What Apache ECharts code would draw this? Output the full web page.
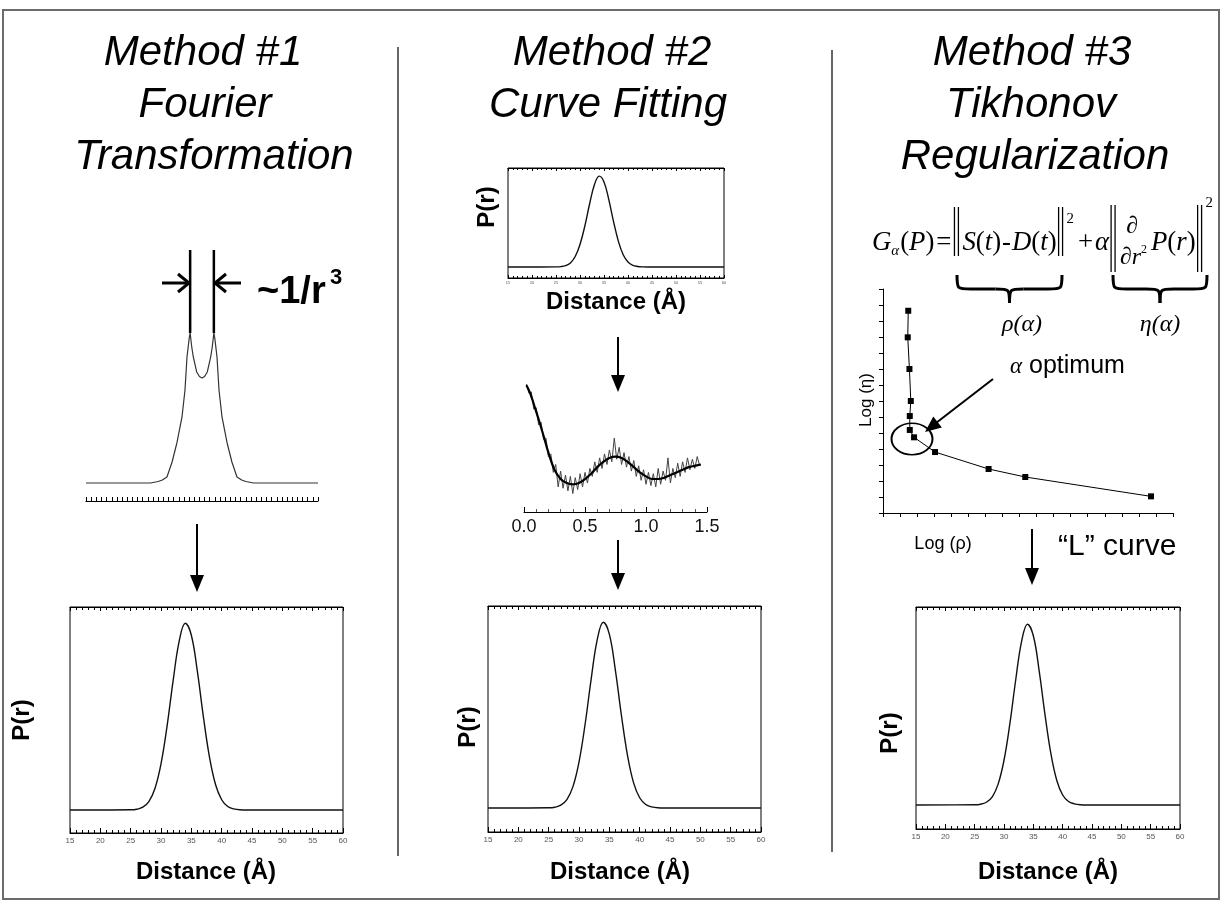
<!DOCTYPE html>
<html><head><meta charset="utf-8">
<script src="https://cdn.jsdelivr.net/npm/echarts@6/dist/echarts.min.js"></script>
<style>html,body{margin:0;padding:0;background:#fff}#c{width:1225px;height:904px}</style>
</head><body><div id="c"></div>
<script>
// ---------- DATA ----------
// Method 1: dipolar (Pake) spectrum, arbitrary frequency axis 0..45
const dipolarX = [0, 12.5, 14.0, 14.8, 15.7, 16.7, 17.65, 18.62, 19.2, 19.59, 20.0, 20.2, 20.5, 20.81, 21.47, 22.0, 22.5, 23.0, 23.53, 24.19, 24.5, 24.8, 25.0, 25.41, 25.8, 26.38, 27.35, 28.3, 29.29, 30.2, 31.0, 32.5, 45];
const dipolarY = [0, 0, 0.01, 0.02, 0.04, 0.14, 0.27, 0.44, 0.62, 0.84, 0.96, 1.0, 0.91, 0.84, 0.74, 0.71, 0.70, 0.71, 0.74, 0.84, 0.91, 1.0, 0.96, 0.84, 0.62, 0.44, 0.27, 0.14, 0.04, 0.02, 0.01, 0, 0];
const peakMarkX = [20.2, 24.8];
const peakMarkY = [1.0, 1.553];

// Distance distribution P(r)
const distanceR = [15, 25, 26, 27, 28, 29, 30, 31, 32, 33, 34, 35, 36, 37, 38, 39, 40, 41, 42, 43, 44, 60];
const prValues  = [0, 0.001, 0.004, 0.015, 0.045, 0.115, 0.247, 0.449, 0.692, 0.904, 0.999, 0.935, 0.740, 0.496, 0.282, 0.135, 0.055, 0.019, 0.006, 0.001, 0, 0];

// Method 2: time-domain trace (noisy) and fit
const traceT = [0.02,0.04,0.06,0.08,0.10,0.12,0.14,0.16,0.18,0.20,0.22,0.24,0.26,0.28,0.30,0.32,0.34,0.36,0.38,0.40,0.42,0.44,0.46,0.48,0.50,0.52,0.54,0.56,0.58,0.60,0.62,0.64,0.66,0.68,0.70,0.72,0.74,0.76,0.78,0.80,0.82,0.84,0.86,0.88,0.90,0.92,0.94,0.96,0.98,1.00,1.02,1.04,1.06,1.08,1.10,1.12,1.14,1.16,1.18,1.20,1.22,1.24,1.26,1.28,1.30,1.32,1.34,1.36,1.38,1.40,1.42,1.44];
const traceV = [0.97,0.90,0.91,0.78,0.79,0.66,0.68,0.55,0.56,0.42,0.44,0.30,0.36,0.19,0.31,0.18,0.28,0.16,0.27,0.14,0.26,0.17,0.29,0.19,0.30,0.22,0.33,0.27,0.38,0.30,0.41,0.33,0.44,0.36,0.47,0.38,0.56,0.40,0.49,0.36,0.45,0.34,0.42,0.31,0.39,0.27,0.35,0.24,0.32,0.21,0.30,0.20,0.29,0.19,0.33,0.21,0.31,0.24,0.41,0.22,0.33,0.26,0.37,0.27,0.38,0.30,0.41,0.32,0.40,0.33,0.42,0.35];
const fitT = [0.02,0.05,0.10,0.15,0.20,0.25,0.30,0.35,0.40,0.45,0.50,0.55,0.60,0.65,0.70,0.75,0.80,0.85,0.90,0.95,1.00,1.05,1.10,1.15,1.20,1.25,1.30,1.35,1.40,1.45];
const fitV = [0.96,0.90,0.76,0.61,0.45,0.32,0.25,0.22,0.21,0.22,0.25,0.29,0.34,0.38,0.41,0.42,0.41,0.38,0.34,0.30,0.27,0.25,0.25,0.26,0.28,0.30,0.32,0.34,0.35,0.36];
const timeTickLabels = ['0.0', '0.5', '1.0', '1.5'];

// Method 3: L-curve
const logRho = [1.48, 1.45, 1.55, 1.63, 1.57, 1.57, 1.82, 3.05, 6.19, 8.34, 15.71];
const logEta = [12.64, 10.98, 9.0, 7.0, 6.06, 5.19, 4.73, 3.81, 2.75, 2.25, 1.04];

// ---------- HELPERS ----------
const zip = (a, b) => a.map((v, i) => [v, b[i]]);
const SANS = '"Liberation Sans", Arial, sans-serif';
const SERIF = '"Liberation Serif", "Times New Roman", serif';

function distAxisBottom(grid, small) {
  return {
    type: 'value', gridIndex: grid, position: 'bottom', min: 15, max: 60, interval: 5,
    axisLine: { show: true, onZero: false, lineStyle: { color: '#000', width: 1 } },
    axisTick: { show: true, inside: true, length: small ? 3 : 5, lineStyle: { color: '#000' } },
    minorTick: { show: true, splitNumber: 5, length: small ? 2 : 3, lineStyle: { color: '#000' } },
    axisLabel: { show: true, fontSize: small ? 4 : 8, color: '#555', margin: small ? 3 : 4, fontFamily: SANS },
    splitLine: { show: false }, minorSplitLine: { show: false }
  };
}
function distAxisTop(grid, small) {
  return {
    type: 'value', gridIndex: grid, position: 'top', min: 15, max: 60, interval: 5,
    axisLine: { show: true, onZero: false, lineStyle: { color: '#000', width: 1 } },
    axisTick: { show: true, inside: true, length: small ? 3 : 4, lineStyle: { color: '#000' } },
    minorTick: { show: true, splitNumber: 5, length: small ? 2 : 3, lineStyle: { color: '#000' } },
    axisLabel: { show: false }, splitLine: { show: false }, minorSplitLine: { show: false }
  };
}
function hiddenY(grid, min, max) {
  return { type: 'value', gridIndex: grid, min, max, show: false, axisLine: { onZero: false }, splitLine: { show: false } };
}
function prSeries(xi, yi) {
  return { type: 'line', xAxisIndex: xi, yAxisIndex: yi, data: zip(distanceR, prValues), smooth: 0.4,
    showSymbol: false, lineStyle: { color: '#111', width: 1.4 }, silent: true, animation: false };
}

// graphic helpers
const T = (text, x, y, font, o = {}) => ({ type: 'text', x, y, z: 100, rotation: o.rot || 0,
  style: { text, font, fill: o.fill || '#000', align: o.align || 'center', verticalAlign: o.va || 'middle' } });
const L = (x1, y1, x2, y2, w, c) => ({ type: 'line', z: 100, shape: { x1, y1, x2, y2 }, style: { stroke: c || '#000', lineWidth: w || 1 } });
const PG = (pts) => ({ type: 'polygon', z: 100, shape: { points: pts }, style: { fill: '#000' } });
const PL = (pts, w) => ({ type: 'polyline', z: 100, shape: { points: pts }, style: { stroke: '#000', lineWidth: w, fill: null } });
const BZ = (x1, y1, c1x, c1y, c2x, c2y, x2, y2, w) => ({ type: 'bezierCurve', z: 100,
  shape: { x1, y1, x2, y2, cpx1: c1x, cpy1: c1y, cpx2: c2x, cpy2: c2y }, style: { stroke: '#000', lineWidth: w, fill: null } });
function downArrow(x, y1, y2) {
  return [L(x, y1, x, y2 - 12, 2), PG([[x - 7, y2 - 17], [x + 7, y2 - 17], [x, y2]])];
}
function brace(x0, x1, yTop) {
  const ym = yTop + 14, yt = yTop + 28, xm = (x0 + x1) / 2, r = 14;
  return [
    BZ(x0, yTop, x0, ym, x0, ym, x0 + r, ym, 3), L(x0 + r, ym, xm - r, ym, 3),
    BZ(xm - r, ym, xm, ym, xm, ym, xm, yt, 3), BZ(xm, yt, xm, ym, xm, ym, xm + r, ym, 3),
    L(xm + r, ym, x1 - r, ym, 3), BZ(x1 - r, ym, x1, ym, x1, ym, x1, yTop, 3)
  ];
}

// formula layout (measured text widths, then fitted to the reference span)
const mctx = document.createElement('canvas').getContext('2d');
const tw = (t, f) => { mctx.font = f; return mctx.measureText(t).width; };
function buildFormula(x0, xEnd, ym) {
  const FI = 'italic 27px ' + SERIF, FR = '27px ' + SERIF, FS = '15px ' + SERIF, FSI = 'italic 15px ' + SERIF;
  const kids = []; let x = 0;
  const put = (t, f, dy = 0, gap = 0) => { kids.push(T(t, x, ym + dy, f, { align: 'left' })); x += tw(t, f) + gap; };
  const bars = (y1, y2) => { x += 2; kids.push(L(x, y1, x, y2, 1.3), L(x + 4, y1, x + 4, y2, 1.3)); x += 8; };
  put('G', FI); put('α', FSI, 8, 1); put('(', FR); put('P', FI); put(')', FR, 0, 2); put('=', FR, 0, 1);
  bars(ym - 36, ym + 13);
  put('S', FI); put('(', FR); put('t', FI); put(')', FR, 0, 1); put('-', FR, 0, 1); put('D', FI); put('(', FR); put('t', FI); put(')', FR);
  bars(ym - 36, ym + 13);
  put('2', FS, -24, 4);
  put('+', FR, 0, 2); put('α', FI, 0, 0);
  bars(ym - 38, ym + 29);
  const fx = x; const fw = tw('∂r', 'italic 24px ' + SERIF) + 9;
  kids.push(T('∂', fx + fw / 2 - 2, ym - 16, 'italic 24px ' + SERIF));
  kids.push(T('∂r', fx + 1, ym + 15, 'italic 24px ' + SERIF, { align: 'left' }));
  kids.push(T('2', fx + fw - 8, ym + 7, '12px ' + SERIF, { align: 'left' }));
  x += fw + 2;
  put('P', FI); put('(', FR); put('r', FI); put(')', FR);
  bars(ym - 38, ym + 29);
  put('2', FS, -40, 0);
  return { type: 'group', x: x0, y: 0, scaleX: (xEnd - x0) / x, children: kids };
}

// ---------- GRAPHIC ----------
const TITLE = 'italic 42px ' + SANS;
const LBL = 'bold 24px ' + SANS;
const graphics = [
  { type: 'rect', z: 90, shape: { x: 3, y: 10, width: 1216, height: 889 }, style: { fill: null, stroke: '#6b6b6b', lineWidth: 2 } },
  L(398, 47, 398, 856, 1.5, '#333'), L(832, 50, 832, 852, 1.5, '#333'),
  // titles
  T('Method #1', 203, 53, TITLE), T('Fourier', 205, 105, TITLE), T('Transformation', 214, 157, TITLE),
  T('Method #2', 612, 53, TITLE), T('Curve Fitting', 608, 105, TITLE),
  T('Method #3', 1032, 53, TITLE), T('Tikhonov', 1031, 105, TITLE), T('Regularization', 1035, 157, TITLE),
  // method 1 annotations
  L(162, 283, 188, 283, 3), PL([[178, 274], [189, 283], [178, 292]], 3),
  L(216, 283, 241, 283, 3), PL([[226, 274], [215, 283], [226, 292]], 3),
  T('~1/r', 257, 293, 'bold 38px ' + SANS, { align: 'left' }), T('3', 330, 278, 'bold 22px ' + SANS, { align: 'left' }),
  ...downArrow(197, 524, 592),
  T('P(r)', 22, 720, LBL, { rot: Math.PI / 2 }), T('Distance (Å)', 206, 872, LBL),
  // method 2
  T('P(r)', 487, 207, LBL, { rot: Math.PI / 2 }), T('Distance (Å)', 616, 302, LBL),
  ...downArrow(618, 337, 392),
  ...downArrow(618, 540, 590),
  T('P(r)', 468, 727, LBL, { rot: Math.PI / 2 }), T('Distance (Å)', 620, 872, LBL),
  // method 3 formula
  buildFormula(872, 1213, 243),
  ...brace(957, 1062, 275), ...brace(1113, 1207, 275),
  T('ρ(α)', 1022, 325, 'italic 24px ' + SERIF), T('η(α)', 1160, 325, 'italic 24px ' + SERIF),
  // L-curve annotations
  T('α', 1010, 367, 'italic 23px ' + SERIF, { align: 'left' }), T('optimum', 1029, 366, '25px ' + SANS, { align: 'left' }),
  L(993, 379, 936, 423, 2), PG([[941.9, 427.6], [933.3, 416.6], [925, 432]]),
  { type: 'circle', z: 100, x: 912, y: 439, scaleX: 1, scaleY: 0.77, shape: { cx: 0, cy: 0, r: 20.5 }, style: { fill: null, stroke: '#000', lineWidth: 2, strokeNoScale: true } },
  T('Log (η)', 866, 400, '17px ' + SANS, { rot: Math.PI / 2 }),
  T('Log (ρ)', 943, 544, '18px ' + SANS),
  T('“L” curve', 1058, 547, '30px ' + SANS, { align: 'left' }),
  ...downArrow(1032, 529, 585),
  T('P(r)', 890, 733, LBL, { rot: Math.PI / 2 }), T('Distance (Å)', 1048, 872, LBL)
];

// ---------- OPTION ----------
const boxGrid = (left, top, width, height) => ({ left, top, width, height, show: true, borderColor: '#000', borderWidth: 1, backgroundColor: 'transparent' });
const option = {
  backgroundColor: '#fff',
  animation: false,
  grid: [
    { left: 86, top: 250, width: 232, height: 251 },        // 0 method1 spectrum
    boxGrid(70, 607, 273, 226),                              // 1 method1 P(r)
    boxGrid(508, 168, 216, 110),                             // 2 method2 small P(r)
    { left: 524, top: 375, width: 183, height: 137 },        // 3 method2 trace
    boxGrid(488, 606, 273, 226),                             // 4 method2 P(r)
    { left: 883, top: 289, width: 290, height: 224 },        // 5 L-curve
    boxGrid(916, 607, 264, 222)                              // 6 method3 P(r)
  ],
  xAxis: [
    { type: 'value', gridIndex: 0, min: 0, max: 45, interval: 1,
      axisLine: { show: true, onZero: false, lineStyle: { color: '#000' } }, axisTick: { show: true, inside: true, length: 4, lineStyle: { color: '#000' } },
      axisLabel: { show: false }, splitLine: { show: false } },
    distAxisBottom(1), distAxisTop(1),
    distAxisBottom(2, true), distAxisTop(2, true),
    { type: 'value', gridIndex: 3, min: 0, max: 1.5, interval: 0.5,
      axisLine: { show: true, onZero: false, lineStyle: { color: '#000' } },
      axisTick: { show: true, inside: true, length: 5, lineStyle: { color: '#000' } },
      minorTick: { show: true, splitNumber: 5, length: 3, lineStyle: { color: '#555' } },
      axisLabel: { fontSize: 18, color: '#111', margin: 6, fontFamily: SANS, formatter: (v) => timeTickLabels[Math.round(v * 2)] },
      splitLine: { show: false }, minorSplitLine: { show: false } },
    distAxisBottom(4), distAxisTop(4),
    { type: 'value', gridIndex: 5, min: 0, max: 17, interval: 1,
      axisLine: { show: true, onZero: false, lineStyle: { color: '#000' } }, axisTick: { show: true, length: 4, lineStyle: { color: '#000' } },
      axisLabel: { show: false }, splitLine: { show: false } },
    distAxisBottom(6), distAxisTop(6)
  ],
  yAxis: [
    hiddenY(0, -0.12, 1.553),
    hiddenY(1, -0.123, 1.086),
    hiddenY(2, -0.121, 1.088),
    hiddenY(3, 0, 1.038),
    hiddenY(4, -0.129, 1.086),
    { type: 'value', gridIndex: 5, min: 0, max: 14, interval: 1,
      axisLine: { show: true, onZero: false, lineStyle: { color: '#000' } }, axisTick: { show: true, length: 4, lineStyle: { color: '#000' } },
      axisLabel: { show: false }, splitLine: { show: false } },
    hiddenY(6, -0.133, 1.094)
  ],
  series: [
    { type: 'line', xAxisIndex: 0, yAxisIndex: 0, data: zip(dipolarX, dipolarY), showSymbol: false, smooth: false,
      lineStyle: { color: '#333', width: 1.2 }, silent: true },
    { type: 'line', xAxisIndex: 0, yAxisIndex: 0, data: [[peakMarkX[0], peakMarkY[0]], [peakMarkX[0], peakMarkY[1]]], showSymbol: false,
      lineStyle: { color: '#000', width: 2.5 }, silent: true },
    { type: 'line', xAxisIndex: 0, yAxisIndex: 0, data: [[peakMarkX[1], peakMarkY[0]], [peakMarkX[1], peakMarkY[1]]], showSymbol: false,
      lineStyle: { color: '#000', width: 2.5 }, silent: true },
    prSeries(1, 1),
    prSeries(3, 2),
    { type: 'line', xAxisIndex: 5, yAxisIndex: 3, data: zip(traceT, traceV), showSymbol: false,
      lineStyle: { color: '#444', width: 1 }, silent: true },
    { type: 'line', xAxisIndex: 5, yAxisIndex: 3, data: zip(fitT, fitV), showSymbol: false, smooth: 0.4,
      lineStyle: { color: '#000', width: 2.2 }, silent: true },
    prSeries(6, 4),
    { type: 'line', xAxisIndex: 8, yAxisIndex: 5, data: zip(logRho, logEta), symbol: 'rect', symbolSize: 6,
      itemStyle: { color: '#000' }, lineStyle: { color: '#000', width: 1 }, silent: true },
    prSeries(9, 6)
  ],
  graphic: { elements: graphics }
};
const chart = echarts.init(document.getElementById('c'), null, { renderer: 'canvas' });
chart.setOption(option);
</script></body></html>
